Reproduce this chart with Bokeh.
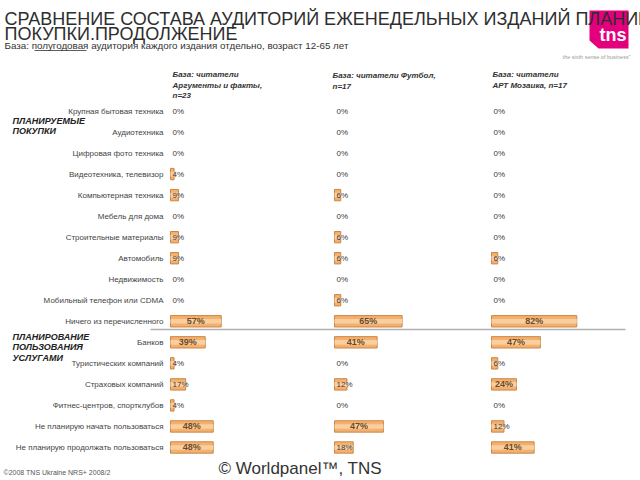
from bokeh.plotting import figure
from bokeh.models import Range1d, ColumnDataSource
from bokeh.embed import file_html
from bokeh.resources import INLINE
from bokeh.core.properties import value

# ---------------- data ----------------
purchase_categories = [
    "Крупная бытовая техника", "Аудиотехника", "Цифровая фото техника",
    "Видеотехника, телевизор", "Компьютерная техника", "Мебель для дома",
    "Строительные материалы", "Автомобиль", "Недвижимость",
    "Мобильный телефон или CDMA", "Ничего из перечисленного",
]
service_categories = [
    "Банков", "Туристических компаний", "Страховых компаний",
    "Фитнес-центров, спортклубов", "Не планирую начать пользоваться",
    "Не планирую продолжать пользоваться",
]
categories = purchase_categories + service_categories

aif_values      = [0, 0, 0, 4, 9, 0, 9, 9, 0, 0, 57, 39, 4, 17, 4, 48, 48]
football_values = [0, 0, 0, 0, 6, 0, 6, 6, 0, 6, 65, 41, 0, 12, 0, 47, 18]
mosaic_values   = [0, 0, 0, 0, 0, 0, 0, 6, 0, 0, 82, 47, 6, 24, 0, 12, 41]

header_aif = ["База: читатели", "Аргументы и факты,", "n=23"]
header_football = ["База: читатели Футбол,", "n=17"]
header_mosaic = ["База: читатели", " АРТ Мозаика, n=17"]

section_purchases = ["ПЛАНИРУЕМЫЕ", "ПОКУПКИ"]
section_services = ["ПЛАНИРОВАНИЕ", "ПОЛЬЗОВАНИЯ", "УСЛУГАМИ"]

title_lines = ["СРАВНЕНИЕ СОСТАВА АУДИТОРИЙ ЕЖЕНЕДЕЛЬНЫХ ИЗДАНИЙ ПЛАНИРУЕМЫЕ",
               "ПОКУПКИ.ПРОДОЛЖЕНИЕ"]
subtitle = "База: полугодовая аудитория каждого издания отдельно, возраст 12-65 лет"
footer_left = "©2008 TNS Ukraine  NRS+ 2008/2"
footer_center = "© Worldpanel™, TNS"

# ---------------- layout ----------------
FONT = value("Liberation Sans")
W, H = 640, 480
ROW0, ROWSTEP = 110.5, 21.03

p = figure(width=W, height=H, output_backend="svg", toolbar_location=None,
           x_range=Range1d(0, W), y_range=Range1d(H, 0),
           x_axis_type=None, y_axis_type=None, min_border=0,
           outline_line_color=None, background_fill_color="white",
           border_fill_color="white")

p.extra_y_ranges = {"rows": Range1d((H - ROW0) / ROWSTEP, (0 - ROW0) / ROWSTEP)}

columns = [("c1", aif_values, 170.0, 0.89),
           ("c2", football_values, 334.0, 1.04),
           ("c3", mosaic_values, 491.0, 1.04)]
for name, vals, x0, scale in columns:
    p.extra_x_ranges[name] = Range1d((0 - x0) / scale, (W - x0) / scale)

# logo
p.patch([589, 628, 628, 598, 589], [10, 10, 48, 48, 40], fill_color="#E4007C",
        line_color=None)
p.text(x=[626], y=[34], text=["tns"], text_font=FONT, text_font_size="18px",
       text_font_style="bold", text_color="white", text_align="right",
       text_baseline="middle")
p.text(x=[630], y=[56], text=["the sixth sense of business\u201d"], text_font=FONT,
       text_font_size="5.5px", text_color="#9a9a9a", text_align="right",
       text_baseline="middle")

# title and subtitle
p.text(x=[4, 4], y=[18.5, 33.5], text=title_lines, text_font=FONT,
       text_font_size="18px", text_color="#2e2e2e", text_baseline="middle")
p.text(x=[4], y=[45], text=[subtitle], text_font=FONT, text_font_size="9.8px",
       text_color="#333333", text_baseline="middle")
p.segment(x0=[34], y0=[50], x1=[86], y1=[50], line_color="#333333", line_width=0.8)

# column headers
hdr_kw = dict(text_font=FONT, text_font_size="8px", text_font_style="bold italic",
              text_color="#333333", text_baseline="middle")
p.text(x=[172] * 3, y=[74, 85, 95], text=header_aif, **hdr_kw)
p.text(x=[332] * 2, y=[75, 86], text=header_football, **hdr_kw)
p.text(x=[492] * 2, y=[74, 85], text=header_mosaic, **hdr_kw)

# section labels
sec_kw = dict(text_font=FONT, text_font_size="9px", text_font_style="bold italic",
              text_color="#222222", text_baseline="middle")
p.text(x=[12] * 2, y=[120, 130], text=section_purchases, **sec_kw)
p.text(x=[12] * 3, y=[336, 346.5, 357], text=section_services, **sec_kw)

# separator
p.segment(x0=[150], y0=[329], x1=[625], y1=[329], line_color="#b0b0b0", line_width=1.5)

# category labels
idx = list(range(len(categories)))
p.text(x=[163] * len(categories), y=idx, text=categories, y_range_name="rows",
       text_font=FONT, text_font_size="8px", text_color="#444444",
       text_align="right", text_baseline="middle")

# bars and value labels
for name, vals, x0, scale in columns:
    bars = ColumnDataSource(dict(y=[i for i, v in zip(idx, vals) if v > 0],
                                 v=[v for v in vals if v > 0]))
    p.hbar(y="y", left=0, right="v", height=0.54, source=bars,
           x_range_name=name, y_range_name="rows",
           fill_color="#F4B06C", line_color="#C98646", line_width=1)
    p.hbar(y="y", left=0, right="v", height=0.22, source=bars,
           x_range_name=name, y_range_name="rows",
           fill_color="#F9CFA0", line_color=None)
    cy, cx, ct, ly, lt = [], [], [], [], []
    for i, v in zip(idx, vals):
        label = f"{v}%"
        wpx = 4.6 * len(str(v)) + 8
        if v * scale >= wpx + 4:
            cy.append(i); cx.append(v / 2); ct.append(label)
        else:
            ly.append(i); lt.append(label)
    p.text(x=cx, y=cy, text=ct, x_range_name=name, y_range_name="rows",
           text_font=FONT, text_font_size="9px", text_font_style="bold",
           text_color="#6a4a2a", text_align="center", text_baseline="middle")
    p.text(x=[0] * len(ly), y=ly, text=lt, x_range_name=name, y_range_name="rows",
           x_offset=2, text_font=FONT, text_font_size="8px",
           text_color="#3a3a3a", text_align="left", text_baseline="middle")

# footer
p.text(x=[3], y=[472], text=[footer_left], text_font=FONT, text_font_size="7px",
       text_color="#555555", text_baseline="middle")
p.text(x=[218], y=[468], text=[footer_center], text_font=FONT,
       text_font_size="17px", text_color="#333333", text_baseline="middle")

open("out.html", "w").write(file_html(p, INLINE))
